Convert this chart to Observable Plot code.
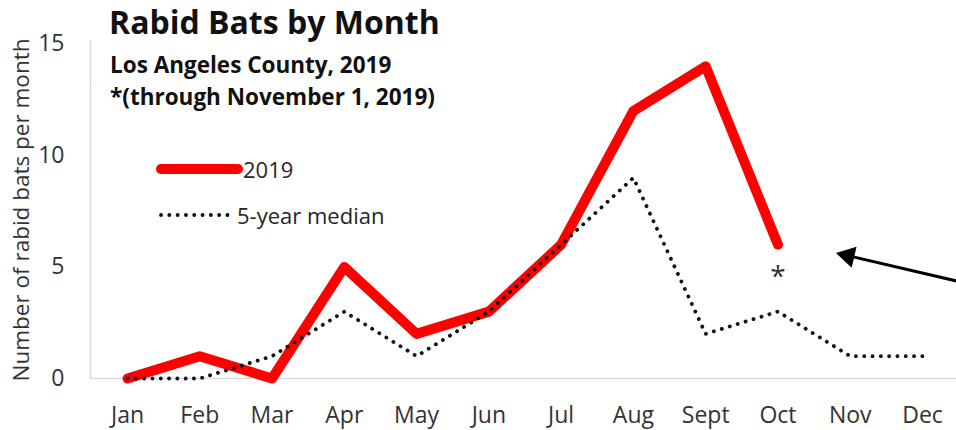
<!DOCTYPE html>
<html>
<head>
<meta charset="utf-8">
<script src="https://cdn.jsdelivr.net/npm/d3@7"></script>
<script src="https://cdn.jsdelivr.net/npm/@observablehq/plot@0.6"></script>
<style>
  html, body { margin: 0; padding: 0; background: #fff; }
  #wrap { position: relative; width: 956px; height: 430px; font-family: "Open Sans", Lato, sans-serif; color: #000; }
  #wrap > svg { position: absolute; left: 0; top: 0; }
  .title { position: absolute; left: 109px; top: 3px; font-size: 32px; font-weight: 700; line-height: 1.2; white-space: nowrap; color: #111; }
  .sub { position: absolute; left: 110px; font-size: 22.5px; font-weight: 700; line-height: 1.2; white-space: nowrap; color: #111; }
  .leg { position: absolute; font-size: 22px; color: #262626; display: flex; align-items: center; white-space: nowrap; line-height: 1.2; }
  #wrap .leg svg { position: static; }
</style>
</head>
<body>
<div id="wrap"></div>
<script>
// ---- data ----
const months = ["Jan","Feb","Mar","Apr","May","Jun","Jul","Aug","Sept","Oct","Nov","Dec"];
const bats2019 = [0, 1, 0, 5, 2, 3, 6, 12, 14, 6];          // through Oct (Nov 1)
const median5yr = [0, 0, 1, 3, 1, 3, 6, 9, 2, 3, 1, 1];
const yTicks = [0, 5, 10, 15];
const titleText = "Rabid Bats by Month";
const subtitleLines = ["Los Angeles County, 2019", "*(through November 1, 2019)"];
const seriesNames = ["2019", "5-year median"];
const yLabel = "Number of rabid bats per month";
// arrow annotation (x in month index units, y in bats)
const arrowAnno = [{x1: 11.5, y1: 4.35, x2: 9.95, y2: 5.52}];
const arrowHead = [{x: 9.97, y: 5.5}];

const d2019 = bats2019.map((v, i) => ({i, v}));
const dMed = median5yr.map((v, i) => ({i, v}));
const FONT = "'Open Sans', Lato, sans-serif";
const pxPerMonth = (922 - 127) / 11;

const plot = Plot.plot({
  width: 956,
  height: 430,
  marginLeft: 90,
  marginRight: 0,
  marginTop: 40,
  marginBottom: 52,
  style: {fontFamily: FONT, background: "transparent", overflow: "visible"},
  x: {type: "linear", domain: [0, 11], range: [127, 922], ticks: d3.range(12), tickFormat: i => months[i], tickSize: 0, tickPadding: 28, label: null},
  y: {domain: [0, 15], range: [378, 43.5], ticks: yTicks, tickSize: 0, tickPadding: 26, label: null},
  marks: [
    Plot.ruleY([0], {x1: -(127 - 90) / pxPerMonth, x2: 11 + (956 - 922) / pxPerMonth, stroke: "#d9d9d9", strokeWidth: 1.5}),
    Plot.ruleX([-(127 - 90) / pxPerMonth], {y1: 0, y2: 15.15, stroke: "#d9d9d9", strokeWidth: 1.5}),
    Plot.line(d2019, {x: "i", y: "v", stroke: "#ff0000", strokeWidth: 10, strokeLinecap: "round", strokeLinejoin: "round"}),
    Plot.line(dMed, {x: "i", y: "v", stroke: "#111", strokeWidth: 3.8, strokeDasharray: "0.1 8.2", strokeLinecap: "round"}),
    Plot.text(d2019.slice(-1), {x: "i", y: "v", text: () => "*", dy: 32, fontSize: 28, fill: "#333"}),
    Plot.link(arrowAnno, {x1: "x1", y1: "y1", x2: "x2", y2: "y2", stroke: "#000", strokeWidth: 3}),
    Plot.dot(arrowHead, {x: "x", y: "y", symbol: "triangle", r: 8, fill: "#000", stroke: null, rotate: -77})
  ]
});

plot.querySelectorAll("[aria-label='x-axis tick label'], [aria-label='y-axis tick label']").forEach(g => {
  g.setAttribute("font-size", "23");
  g.setAttribute("fill", "#333");
});

const wrap = document.getElementById("wrap");
wrap.appendChild(plot);

// y-axis label
const yl = document.createElementNS("http://www.w3.org/2000/svg", "text");
yl.textContent = yLabel;
yl.setAttribute("transform", "translate(29,210) rotate(-90)");
yl.setAttribute("text-anchor", "middle");
yl.setAttribute("font-size", "22.5");
yl.setAttribute("fill", "#333");
yl.setAttribute("font-family", FONT);
plot.appendChild(yl);

// title / subtitles
const t = document.createElement("div");
t.className = "title"; t.textContent = titleText; wrap.appendChild(t);
subtitleLines.forEach((s, k) => {
  const d = document.createElement("div");
  d.className = "sub"; d.style.top = (51 + k * 32) + "px"; d.textContent = s;
  wrap.appendChild(d);
});

// legend
const legStyles = [
  {stroke: "#ff0000", width: 10, dash: null, cap: "round", left: 153, top: 156, x2: 85, w: 90},
  {stroke: "#111", width: 3.8, dash: "0.1 8.2", cap: "round", left: 153, top: 202, x2: 77, w: 84}
];
seriesNames.forEach((name, k) => {
  const st = legStyles[k];
  const d = document.createElement("div");
  d.className = "leg"; d.style.top = st.top + "px"; d.style.left = st.left + "px";
  d.innerHTML = `<svg width="${st.w}" height="24"><line x1="8" x2="${st.x2}" y1="12" y2="12" stroke="${st.stroke}" stroke-width="${st.width}" stroke-linecap="${st.cap}" ${st.dash ? `stroke-dasharray="${st.dash}"` : ""}/></svg><span>${name}</span>`;
  wrap.appendChild(d);
});
</script>
</body>
</html>
